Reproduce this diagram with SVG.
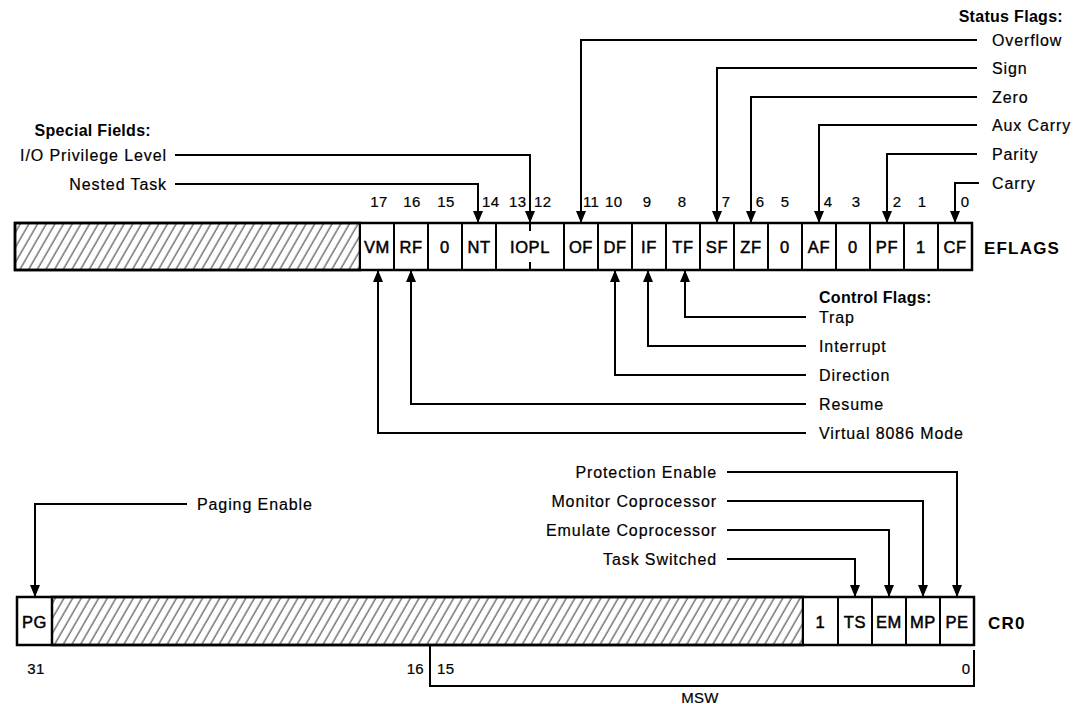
<svg xmlns="http://www.w3.org/2000/svg" width="1080" height="704" viewBox="0 0 1080 704">
<defs>
<pattern id="hatch" patternUnits="userSpaceOnUse" width="7.5" height="8" patternTransform="rotate(30)">
<line x1="2" y1="0" x2="2" y2="8" stroke="#444" stroke-width="1.1"/>
</pattern>
<marker id="ah" markerUnits="userSpaceOnUse" markerWidth="12" markerHeight="10" viewBox="0 0 12 10" refX="12" refY="5" orient="auto">
<path d="M0,0 L12,5 L0,10 z" fill="#000"/>
</marker>
</defs>
<style>
text{font-family:"Liberation Sans",Arial,sans-serif;fill:#000}
.lbl{font-size:16px;letter-spacing:0.9px;stroke:#000;stroke-width:0.2}
.hd{font-size:16px;font-weight:bold;letter-spacing:0.3px}
.cell{font-size:16.5px;letter-spacing:0.6px;text-anchor:middle;stroke:#000;stroke-width:0.5}
.num{font-size:15px;letter-spacing:0.3px;stroke:#000;stroke-width:0.2}
.reg{font-size:17px;font-weight:bold;letter-spacing:1.2px}
.box{fill:#fff;stroke:#000;stroke-width:2}
.hat{fill:url(#hatch);stroke:#000;stroke-width:2.5}
.frame{fill:none;stroke:#000;stroke-width:2.5}
.c{fill:none;stroke:#000;stroke-width:2}
.ca{fill:none;stroke:#000;stroke-width:2;marker-end:url(#ah)}
</style>
<rect width="1080" height="704" fill="#fff"/>

<g id="eflags">
<rect class="hat" x="15" y="223" width="345" height="47"/>
<rect class="box" x="360" y="223" width="34" height="47"/>
<rect class="box" x="394" y="223" width="34" height="47"/>
<rect class="box" x="428" y="223" width="34" height="47"/>
<rect class="box" x="462" y="223" width="34" height="47"/>
<rect class="box" x="496" y="223" width="68" height="47"/>
<rect class="box" x="564" y="223" width="34" height="47"/>
<rect class="box" x="598" y="223" width="34" height="47"/>
<rect class="box" x="632" y="223" width="34" height="47"/>
<rect class="box" x="666" y="223" width="34" height="47"/>
<rect class="box" x="700" y="223" width="34" height="47"/>
<rect class="box" x="734" y="223" width="34" height="47"/>
<rect class="box" x="768" y="223" width="34" height="47"/>
<rect class="box" x="802" y="223" width="34" height="47"/>
<rect class="box" x="836" y="223" width="34" height="47"/>
<rect class="box" x="870" y="223" width="34" height="47"/>
<rect class="box" x="904" y="223" width="34" height="47"/>
<rect class="box" x="938" y="223" width="34" height="47"/>
<rect class="frame" x="15" y="223" width="957" height="47"/>
<line x1="530" y1="223" x2="530" y2="231" stroke="#000" stroke-width="2"/>
<line x1="530" y1="262" x2="530" y2="270" stroke="#000" stroke-width="2"/>
<text class="cell" x="377" y="253">VM</text>
<text class="cell" x="411" y="253">RF</text>
<text class="cell" x="445" y="253">0</text>
<text class="cell" x="479" y="253">NT</text>
<text class="cell" x="530" y="253">IOPL</text>
<text class="cell" x="581" y="253">OF</text>
<text class="cell" x="615" y="253">DF</text>
<text class="cell" x="649" y="253">IF</text>
<text class="cell" x="683" y="253">TF</text>
<text class="cell" x="717" y="253">SF</text>
<text class="cell" x="751" y="253">ZF</text>
<text class="cell" x="785" y="253">0</text>
<text class="cell" x="819" y="253">AF</text>
<text class="cell" x="853" y="253">0</text>
<text class="cell" x="887" y="253">PF</text>
<text class="cell" x="921" y="253">1</text>
<text class="cell" x="955" y="253">CF</text>
<text class="reg" x="984" y="254">EFLAGS</text>
</g>

<g id="eflags-bits">
<text class="num" x="379" y="207" text-anchor="middle">17</text>
<text class="num" x="412" y="207" text-anchor="middle">16</text>
<text class="num" x="446" y="207" text-anchor="middle">15</text>
<text class="num" x="482" y="207">14</text>
<text class="num" x="509" y="207">13</text>
<text class="num" x="534" y="207">12</text>
<text class="num" x="583" y="207">11</text>
<text class="num" x="605" y="207">10</text>
<text class="num" x="647" y="207" text-anchor="middle">9</text>
<text class="num" x="682" y="207" text-anchor="middle">8</text>
<text class="num" x="726" y="207" text-anchor="middle">7</text>
<text class="num" x="760" y="207" text-anchor="middle">6</text>
<text class="num" x="785" y="207" text-anchor="middle">5</text>
<text class="num" x="828" y="207" text-anchor="middle">4</text>
<text class="num" x="856" y="207" text-anchor="middle">3</text>
<text class="num" x="897" y="207" text-anchor="middle">2</text>
<text class="num" x="922" y="207" text-anchor="middle">1</text>
<text class="num" x="965" y="207" text-anchor="middle">0</text>
</g>

<g id="status-flags">
<text class="hd" x="1063" y="22" text-anchor="end">Status Flags:</text>
<text class="lbl" x="992" y="46">Overflow</text>
<text class="lbl" x="992" y="74">Sign</text>
<text class="lbl" x="992" y="103">Zero</text>
<text class="lbl" x="992" y="131">Aux Carry</text>
<text class="lbl" x="992" y="160">Parity</text>
<text class="lbl" x="992" y="189">Carry</text>
</g>

<g id="special-fields">
<text class="hd" x="151" y="136" text-anchor="end">Special Fields:</text>
<text class="lbl" x="167" y="161" text-anchor="end">I/O Privilege Level</text>
<text class="lbl" x="167" y="190" text-anchor="end">Nested Task</text>
</g>

<g id="control-flags">
<text class="hd" x="819" y="303">Control Flags:</text>
<text class="lbl" x="819" y="323">Trap</text>
<text class="lbl" x="819" y="352">Interrupt</text>
<text class="lbl" x="819" y="381">Direction</text>
<text class="lbl" x="819" y="410">Resume</text>
<text class="lbl" x="819" y="439">Virtual 8086 Mode</text>
</g>

<g id="cr0">
<rect class="box" x="17" y="597" width="35" height="48"/>
<rect class="hat" x="52" y="597" width="751" height="48"/>
<rect class="box" x="803" y="597" width="35" height="48"/>
<rect class="box" x="838" y="597" width="34" height="48"/>
<rect class="box" x="872" y="597" width="34" height="48"/>
<rect class="box" x="906" y="597" width="34" height="48"/>
<rect class="box" x="940" y="597" width="34" height="48"/>
<rect class="frame" x="17" y="597" width="957" height="48"/>
<text class="cell" x="34.5" y="628">PG</text>
<text class="cell" x="820.5" y="628">1</text>
<text class="cell" x="855" y="628">TS</text>
<text class="cell" x="889" y="628">EM</text>
<text class="cell" x="923" y="628">MP</text>
<text class="cell" x="957" y="628">PE</text>
<text class="reg" x="988" y="629">CR0</text>
</g>

<g id="cr0-bits">
<text class="num" x="36" y="674" text-anchor="middle">31</text>
<text class="num" x="424" y="674" text-anchor="end">16</text>
<text class="num" x="437" y="674">15</text>
<text class="num" x="966" y="674" text-anchor="middle">0</text>
<text class="num" x="700" y="703" text-anchor="middle">MSW</text>
</g>

<g id="cr0-labels">
<text class="lbl" x="197" y="510">Paging Enable</text>
<text class="lbl" x="717" y="478" text-anchor="end">Protection Enable</text>
<text class="lbl" x="717" y="507" text-anchor="end">Monitor Coprocessor</text>
<text class="lbl" x="717" y="536" text-anchor="end">Emulate Coprocessor</text>
<text class="lbl" x="717" y="565" text-anchor="end">Task Switched</text>
</g>

<g id="connectors">
<polyline class="ca" points="977,40 581,40 581,223"/>
<polyline class="ca" points="977,68 717,68 717,223"/>
<polyline class="ca" points="977,97 751,97 751,223"/>
<polyline class="ca" points="977,125 819,125 819,223"/>
<polyline class="ca" points="977,154 887,154 887,223"/>
<polyline class="ca" points="979,183 955,183 955,223"/>
<polyline class="ca" points="175,155 530,155 530,223"/>
<polyline class="ca" points="175,184 478,184 478,223"/>
<polyline class="ca" points="806,317 685,317 685,270"/>
<polyline class="ca" points="806,346 648,346 648,270"/>
<polyline class="ca" points="806,375 615,375 615,270"/>
<polyline class="ca" points="806,404 411,404 411,270"/>
<polyline class="ca" points="806,433 378,433 378,270"/>
<polyline class="ca" points="187,504 35,504 35,597"/>
<polyline class="ca" points="727,472 957,472 957,597"/>
<polyline class="ca" points="727,501 923,501 923,597"/>
<polyline class="ca" points="727,530 889,530 889,597"/>
<polyline class="ca" points="727,559 855,559 855,597"/>
<polyline class="c" points="430,645 430,686 974,686 974,650"/>
</g>
</svg>
